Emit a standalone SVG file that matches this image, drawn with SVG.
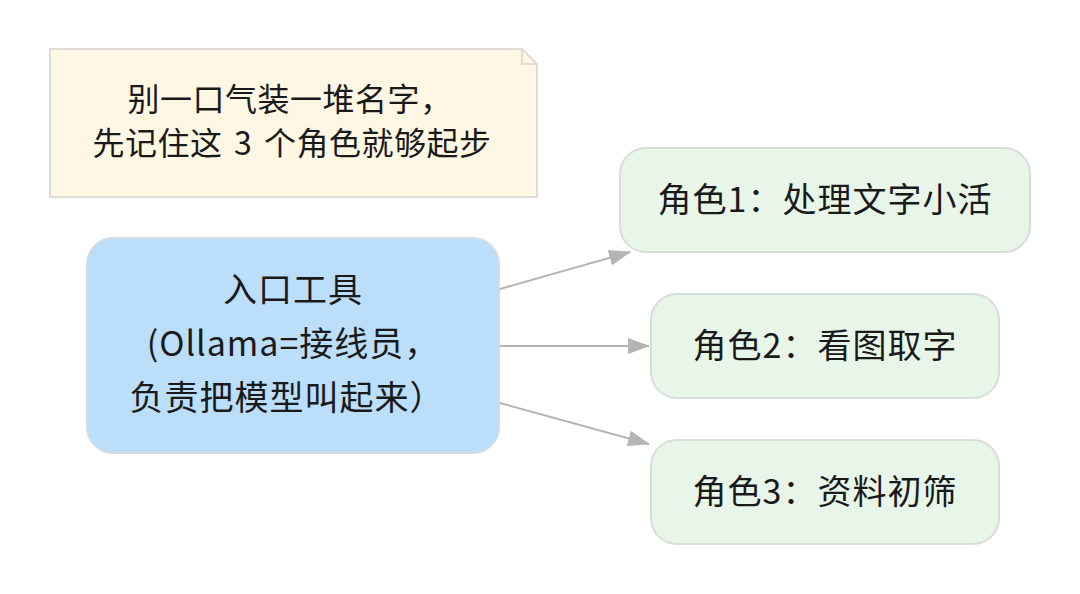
<svg xmlns="http://www.w3.org/2000/svg" width="1080" height="594" viewBox="0 0 1080 594">
<style>
text{font-family:"Noto Sans CJK SC","Noto Sans",sans-serif;fill:#1a1a1a;text-anchor:middle}
.note{fill:#fdf7e3;stroke:#e0ddd6;stroke-width:2}
.entry{fill:#bbdefb;stroke:#d3dde4;stroke-width:2}
.role{fill:#e8f5e9;stroke:#d8ddd8;stroke-width:2}
.edge{stroke:#b4b4b4;stroke-width:2;fill:none}
.big{font-size:34px;letter-spacing:1px}
</style>
<defs>
<marker id="arr" markerWidth="22" markerHeight="16" refX="21" refY="8" orient="auto" markerUnits="userSpaceOnUse">
<path d="M0,0 L22,8 L0,16 z" fill="#b4b4b4"/>
</marker>
</defs>
<rect width="1080" height="594" fill="#ffffff"/>
<g id="note">
<path class="note" d="M50,49 H522 L537,64 V197 H50 Z"/>
<path d="M522,49 V64 H537" fill="none" stroke="#e0ddd6" stroke-width="2"/>
<text x="290" y="111" font-size="32" letter-spacing="0.5">别一口气装一堆名字，</text>
<text x="292" y="155" font-size="32" word-spacing="4" letter-spacing="0.5">先记住这 3 个角色就够起步</text>
</g>
<g id="entry">
<rect class="entry" x="87" y="238" width="412" height="215" rx="26"/>
<text class="big" x="293" y="302" letter-spacing="3">入口工具</text>
<text class="big" x="293" y="356">(Ollama=接线员，</text>
<text class="big" x="287" y="410">负责把模型叫起来）</text>
</g>
<g id="role1">
<rect class="role" x="620" y="148" width="410" height="104" rx="26"/>
<text class="big" x="825" y="212">角色1：处理文字小活</text>
</g>
<g id="role2">
<rect class="role" x="651" y="294" width="348" height="104" rx="26"/>
<text class="big" x="825" y="358">角色2：看图取字</text>
</g>
<g id="role3">
<rect class="role" x="651" y="440" width="348" height="104" rx="26"/>
<text class="big" x="825" y="504">角色3：资料初筛</text>
</g>
<g id="connectors">
<line class="edge" x1="500" y1="289" x2="630" y2="252" marker-end="url(#arr)"/>
<line class="edge" x1="500" y1="346" x2="649" y2="346" marker-end="url(#arr)"/>
<line class="edge" x1="500" y1="403" x2="649" y2="444" marker-end="url(#arr)"/>
</g>
</svg>
